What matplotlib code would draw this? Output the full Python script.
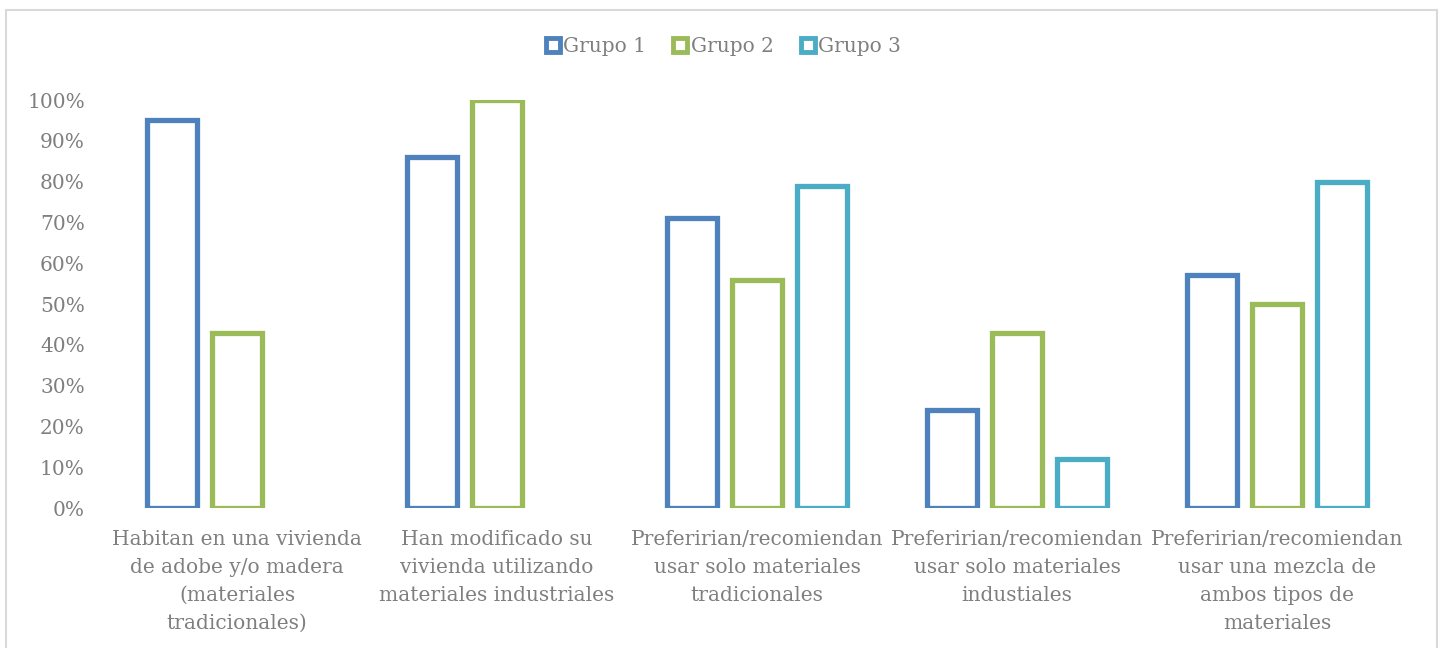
import matplotlib.pyplot as plt
import numpy as np
from matplotlib.ticker import PercentFormatter
from matplotlib.patches import Rectangle
from matplotlib.lines import Line2D

plt.rcParams["font.family"] = ["DejaVu Serif"]

categorias = ["Habitan en una vivienda\nde adobe y/o madera\n(materiales\ntradicionales)",
              "Han modificado su\nvivienda utilizando\nmateriales industriales",
              "Preferirian/recomiendan\nusar solo materiales\ntradicionales",
              "Preferirian/recomiendan\nusar solo materiales\nindustiales",
              "Preferirian/recomiendan\nusar una mezcla de\nambos tipos de\nmateriales"]
grupos = ["Grupo 1", "Grupo 2", "Grupo 3"]
grupo1 = [0.95, 0.86, 0.71, 0.24, 0.57]
grupo2 = [0.43, 1.00, 0.56, 0.43, 0.50]
grupo3 = [np.nan, np.nan, 0.79, 0.12, 0.80]
colores = ["#4F81BD", "#9BBB59", "#4BACC6"]
gris = "#7F7F7F"

fig = plt.figure(figsize=(14.4, 6.48), dpi=100)
ax = fig.add_axes([107/1440, 140/648, 1300/1440, 408/648])

x = np.arange(len(categorias))
paso = 0.25
ancho = 0.19
for i, (serie, col) in enumerate(zip([grupo1, grupo2, grupo3], colores)):
    ax.bar(x + (i - 1) * paso, serie, ancho, facecolor="white", edgecolor=col,
           linewidth=3.8)

ax.set_xlim(-0.5, len(categorias) - 0.5)
ax.set_ylim(0, 1)
ax.set_yticks(np.arange(0, 1.01, 0.1))
ax.yaxis.set_major_formatter(PercentFormatter(1, decimals=0))
ax.set_xticks(x)
ax.set_xticklabels(categorias, linespacing=1.6)
ax.tick_params(axis="both", length=0, labelsize=14.5, labelcolor=gris)
ax.tick_params(axis="y", pad=16)
ax.tick_params(axis="x", pad=16)
for s in ax.spines.values():
    s.set_visible(False)

handles = [Line2D([], [], linestyle="none", marker="s", markersize=9.5,
                  markerfacecolor="white", markeredgecolor=c, markeredgewidth=3.5)
           for c in colores]
fig.legend(handles, grupos, loc="center", bbox_to_anchor=(0.502, 1 - 47/648), ncol=3,
           frameon=False, fontsize=14.5, handlelength=0.8, handletextpad=0.1,
           columnspacing=1.3, labelcolor=gris)

fig.patches.append(Rectangle((6/1440, -10/648), 1431/1440, 648/648, transform=fig.transFigure,
                             fill=False, edgecolor="#D9D9D9", linewidth=1.5))

fig.savefig("out.png", dpi=100)
